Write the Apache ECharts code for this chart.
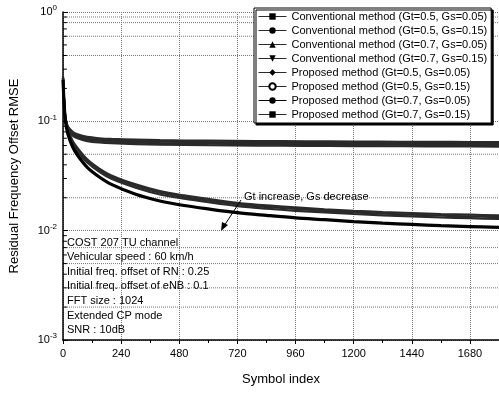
<!DOCTYPE html>
<html><head><meta charset="utf-8">
<script src="https://cdn.jsdelivr.net/npm/echarts@6/dist/echarts.min.js"></script>
<style>html,body{margin:0;padding:0;background:#fff}#c{width:499px;height:393px}</style>
</head><body><div id="c"></div>
<script>
const xConv = [0, 5, 10, 20, 40, 60, 100, 150, 200, 300, 400, 600, 800, 1000, 1200, 1400, 1600, 1800];
const conv1 = [0.26, 0.15, 0.108, 0.090, 0.080, 0.076, 0.072, 0.070, 0.069, 0.068, 0.0672, 0.0665, 0.066, 0.0656, 0.0653, 0.065, 0.0648, 0.0646];
const conv2 = [0.25, 0.145, 0.105, 0.088, 0.078, 0.074, 0.070, 0.068, 0.067, 0.066, 0.0652, 0.0645, 0.064, 0.0636, 0.0633, 0.063, 0.0628, 0.0626];
const conv3 = [0.25, 0.14, 0.102, 0.086, 0.076, 0.072, 0.068, 0.066, 0.065, 0.064, 0.0632, 0.0625, 0.062, 0.0616, 0.0613, 0.061, 0.0608, 0.0606];
const conv4 = [0.24, 0.135, 0.100, 0.084, 0.074, 0.070, 0.066, 0.064, 0.063, 0.062, 0.0612, 0.0605, 0.060, 0.0597, 0.0594, 0.0592, 0.059, 0.0588];

const xProp = [0, 5, 10, 20, 40, 60, 100, 150, 200, 300, 400, 500, 600, 720, 840, 960, 1080, 1200, 1320, 1440, 1560, 1680, 1800];
const prop1 = [0.25, 0.148, 0.108, 0.083, 0.064, 0.055, 0.044, 0.036, 0.031, 0.0256, 0.0222, 0.0203, 0.0188, 0.0174, 0.0165, 0.0158, 0.0152, 0.0147, 0.0143, 0.014, 0.0137, 0.0135, 0.0133];
const prop2 = [0.25, 0.15, 0.11, 0.085, 0.066, 0.057, 0.045, 0.037, 0.032, 0.0265, 0.023, 0.021, 0.0195, 0.018, 0.017, 0.0163, 0.0157, 0.0152, 0.0148, 0.0145, 0.0142, 0.014, 0.0138];
const prop3 = [0.24, 0.14, 0.1, 0.077, 0.058, 0.049, 0.038, 0.031, 0.0265, 0.0215, 0.0187, 0.017, 0.0158, 0.0146, 0.0138, 0.0131, 0.0126, 0.0121, 0.0117, 0.0114, 0.0111, 0.0109, 0.0107];
const prop4 = [0.25, 0.146, 0.106, 0.081, 0.062, 0.053, 0.042, 0.0345, 0.0298, 0.0247, 0.0214, 0.0196, 0.0182, 0.0168, 0.0159, 0.0152, 0.0147, 0.0142, 0.0138, 0.0135, 0.0132, 0.013, 0.0128];

const names = [
  'Conventional method (Gt=0.5, Gs=0.05)',
  'Conventional method (Gt=0.5, Gs=0.15)',
  'Conventional method (Gt=0.7, Gs=0.05)',
  'Conventional method (Gt=0.7, Gs=0.15)',
  'Proposed method (Gt=0.5, Gs=0.05)',
  'Proposed method (Gt=0.5, Gs=0.15)',
  'Proposed method (Gt=0.7, Gs=0.05)',
  'Proposed method (Gt=0.7, Gs=0.15)'
];
const infoLines = ['COST 207 TU channel', 'Vehicular speed : 60 km/h', 'Initial freq. offset of RN : 0.25',
  'Initial freq. offset of eNB : 0.1', 'FFT size : 1024', 'Extended CP mode', 'SNR : 10dB'];
const xTicks = [0, 240, 480, 720, 960, 1200, 1440, 1680];
const minorYTicks = [];
[0.001, 0.01, 0.1].forEach(d => { for (let k = 2; k <= 9; k++) minorYTicks.push(+(d * k).toPrecision(3)); });
const extraGrid = [0.9, 0.8, 0.6, 0.4, 0.05, 0.02, 0.007, 0.005, 0.003, 0.002];

const zip = (xs, ys) => xs.map((x, i) => [x, ys[i]]);
const symbols = ['rect', 'circle', 'triangle', 'path://M0,0 L10,0 L5,8 Z', 'diamond', 'emptyCircle', 'circle', 'rect'];
const dataSets = [conv1, conv2, conv3, conv4, prop2, prop1, prop3, prop4];
const series = [];
// decoration: intermediate dotted grid lines
extraGrid.forEach(v => series.push({
  type: 'line', data: [[0, v], [1800, v]], showSymbol: false, silent: true, z: 1, animation: false,
  lineStyle: { color: '#777', type: 'dotted', width: 1 }, tooltip: { show: false }
}));
// decoration: minor y ticks at 2..9 of each decade
minorYTicks.forEach(v => series.push({
  type: 'line', data: [[0, v], [16, v]], showSymbol: false, silent: true, z: 6, animation: false,
  lineStyle: { color: '#000', type: 'solid', width: 1 }
}));
dataSets.forEach((d, i) => {
  const isConv = i < 4;
  const lowest = i === 6;
  series.push({
    name: names[i], type: 'line', data: zip(isConv ? xConv : xProp, d),
    showSymbol: false, symbol: symbols[i], symbolSize: 4, smooth: 0.3,
    lineStyle: { color: lowest ? '#000' : '#2a2a2a', width: lowest ? 3.2 : 2.2 },
    itemStyle: { color: '#000' }, z: lowest ? 5 : 3, animation: false
  });
});

const sup = { fontSize: 8, verticalAlign: 'top', padding: [0, 0, 8, 0], color: '#000', fontFamily: 'Liberation Sans' };
const chart = echarts.init(document.getElementById('c'), null, { renderer: 'canvas' });
chart.setOption({
  animation: false,
  backgroundColor: '#fff',
  grid: { left: 62, right: 0, top: 12, bottom: 53, containLabel: false },
  xAxis: {
    type: 'value', min: 0, max: 1800, interval: 240,
    name: 'Symbol index', nameLocation: 'middle', nameGap: 33,
    nameTextStyle: { fontSize: 13, color: '#000', fontFamily: 'Liberation Sans' },
    axisLine: { lineStyle: { color: '#000', width: 1.5 } },
    axisTick: { show: true, length: 4, lineStyle: { color: '#000' } },
    minorTick: { show: true, splitNumber: 2, length: 3, lineStyle: { color: '#000' } },
    axisLabel: { color: '#000', fontSize: 11, fontFamily: 'Liberation Sans', margin: 8, showMaxLabel: false,
      formatter: v => xTicks.includes(v) ? String(v) : '' },
    splitLine: { show: true, lineStyle: { color: '#777', type: 'dotted', width: 1 } }
  },
  yAxis: {
    type: 'log', min: 0.001, max: 1, logBase: 10,
    name: 'Residual Frequency Offset RMSE', nameLocation: 'middle', nameGap: 42,
    nameTextStyle: { fontSize: 13, color: '#000', fontFamily: 'Liberation Sans' },
    axisLine: { show: true, lineStyle: { color: '#000', width: 1.5 } },
    axisTick: { show: true, inside: true, length: 5, lineStyle: { color: '#000' } },
    axisLabel: {
      color: '#000', fontSize: 11, fontFamily: 'Liberation Sans', margin: 6,
      formatter: v => '10{s|' + Math.round(Math.log10(v)) + '}',
      rich: { s: sup }
    },
    splitLine: { show: true, lineStyle: { color: '#777', type: 'dotted', width: 1 } }
  },
  legend: {
    orient: 'vertical', left: 254, top: 8, itemWidth: 28, itemHeight: 8, itemGap: 3,
    padding: [3, 4, 3, 4], backgroundColor: '#fff', borderColor: '#000', borderWidth: 1,
    shadowColor: '#000', shadowOffsetX: 2, shadowOffsetY: 2, shadowBlur: 0,
    lineStyle: { width: 1 },
    textStyle: { fontSize: 11, color: '#000', fontFamily: 'Liberation Sans', lineHeight: 11 },
    data: names
  },
  graphic: infoLines.map((t, i) => ({
    type: 'text', left: 67, top: 237 + i * 14.6, z: 10,
    style: { text: t, fontSize: 11, fill: '#000', fontFamily: 'Liberation Sans' }
  })).concat([
    { type: 'text', left: 244, top: 191, z: 10, style: { text: 'Gt increase, Gs decrease', fontSize: 11, fill: '#000', fontFamily: 'Liberation Sans' } },
    { type: 'line', z: 10, shape: { x1: 241, y1: 200, x2: 224, y2: 226 }, style: { stroke: '#000', lineWidth: 1 } },
    { type: 'polygon', z: 10, shape: { points: [[221, 231], [222, 222], [228, 225]] }, style: { fill: '#000' } }
  ]),
  series: series
});
</script></body></html>
